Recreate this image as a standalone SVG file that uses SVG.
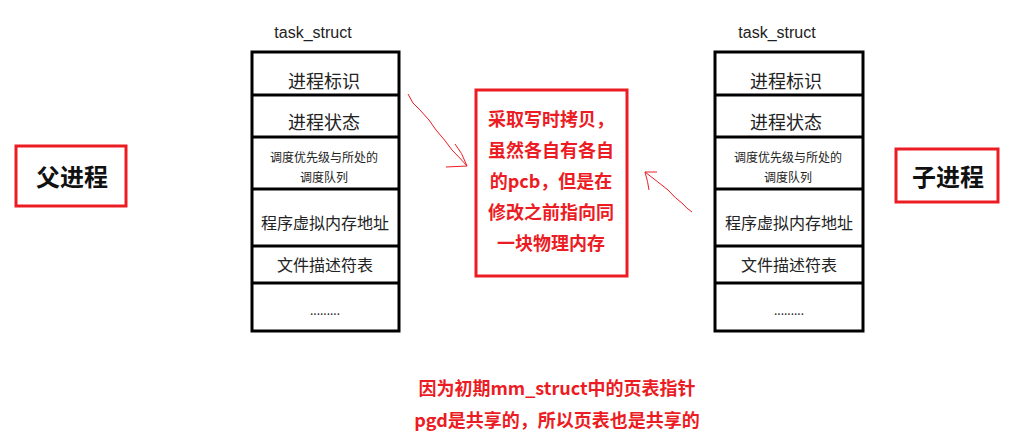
<svg xmlns="http://www.w3.org/2000/svg" width="1022" height="445" viewBox="0 0 1022 445">
<style>
.box{fill:#fff;stroke:#000;stroke-width:3}
.div{stroke:#000;stroke-width:3}
.t{font-family:"Noto Sans CJK SC","Liberation Sans",sans-serif;fill:#222;text-anchor:middle;dominant-baseline:central}
.title{font-family:"Liberation Sans","Noto Sans CJK SC",sans-serif;font-size:16px;fill:#222;text-anchor:middle}
.rbox{fill:#fff;stroke:#ec1c24;stroke-width:3}
.rt{font-family:"Noto Sans CJK SC",sans-serif;font-weight:bold;fill:#ec1c24;text-anchor:middle;font-size:18px}
.bt{font-family:"Noto Sans CJK SC",sans-serif;font-weight:bold;fill:#111;text-anchor:middle;font-size:24px;dominant-baseline:central}
.arr{fill:none;stroke:#ec1c24;stroke-width:1}
</style>
<rect width="1022" height="445" fill="#fff"/>
<g id="parent-label">
<rect class="rbox" x="16" y="146" width="110" height="60"/>
<text class="bt" x="72" y="175">父进程</text>
</g>
<g id="child-label">
<rect class="rbox" x="896" y="149" width="102" height="53"/>
<text class="bt" x="948" y="175">子进程</text>
</g>
<g id="parent-task">
<text class="title" x="313" y="38">task_struct</text>
<rect class="box" x="252" y="52" width="147" height="279"/>
<line class="div" x1="252" y1="95" x2="399" y2="95"/>
<line class="div" x1="252" y1="137" x2="399" y2="137"/>
<line class="div" x1="252" y1="189" x2="399" y2="189"/>
<line class="div" x1="252" y1="246" x2="399" y2="246"/>
<line class="div" x1="252" y1="283" x2="399" y2="283"/>
<text class="t" x="324" y="80" font-size="18">进程标识</text>
<text class="t" x="324" y="121" font-size="18">进程状态</text>
<text class="t" x="324" y="156" font-size="12">调度优先级与所处的</text>
<text class="t" x="324" y="176" font-size="12">调度队列</text>
<text class="t" x="325" y="222" font-size="16">程序虚拟内存地址</text>
<text class="t" x="325" y="264" font-size="16">文件描述符表</text>
<text class="t" x="325" y="309" font-size="12">.........</text>
</g>
<g id="child-task">
<text class="title" x="777" y="38">task_struct</text>
<rect class="box" x="715" y="52" width="148" height="279"/>
<line class="div" x1="715" y1="95" x2="863" y2="95"/>
<line class="div" x1="715" y1="137" x2="863" y2="137"/>
<line class="div" x1="715" y1="189" x2="863" y2="189"/>
<line class="div" x1="715" y1="246" x2="863" y2="246"/>
<line class="div" x1="715" y1="283" x2="863" y2="283"/>
<text class="t" x="786" y="80" font-size="18">进程标识</text>
<text class="t" x="786" y="121" font-size="18">进程状态</text>
<text class="t" x="788" y="156" font-size="12">调度优先级与所处的</text>
<text class="t" x="788" y="176" font-size="12">调度队列</text>
<text class="t" x="789" y="222" font-size="16">程序虚拟内存地址</text>
<text class="t" x="789" y="264" font-size="16">文件描述符表</text>
<text class="t" x="789" y="309" font-size="12">.........</text>
</g>
<g id="cow-note">
<rect class="rbox" x="476" y="90" width="151" height="186"/>
<text class="rt" x="551" y="126">采取写时拷贝，</text>
<text class="rt" x="551" y="157">虽然各自有各自</text>
<text class="rt" x="551" y="188">的pcb，但是在</text>
<text class="rt" x="551" y="219">修改之前指向同</text>
<text class="rt" x="551" y="250">一块物理内存</text>
</g>
<g id="connectors">
<path class="arr" d="M408,94 Q412,104 420,110 Q430,120 436,130 Q445,140 452,150 Q460,158 467,166 L446,167 M467,166 Q462,152 455,144"/>
<path class="arr" d="M692,212 Q686,208 683,204 Q675,198 668,190 Q658,182 645,172 L657,172 M645,172 Q648,182 649,190"/>
</g>
<g id="footnote">
<text class="rt" x="557" y="395">因为初期mm_struct中的页表指针</text>
<text class="rt" x="557" y="427">pgd是共享的，所以页表也是共享的</text>
</g>
</svg>
